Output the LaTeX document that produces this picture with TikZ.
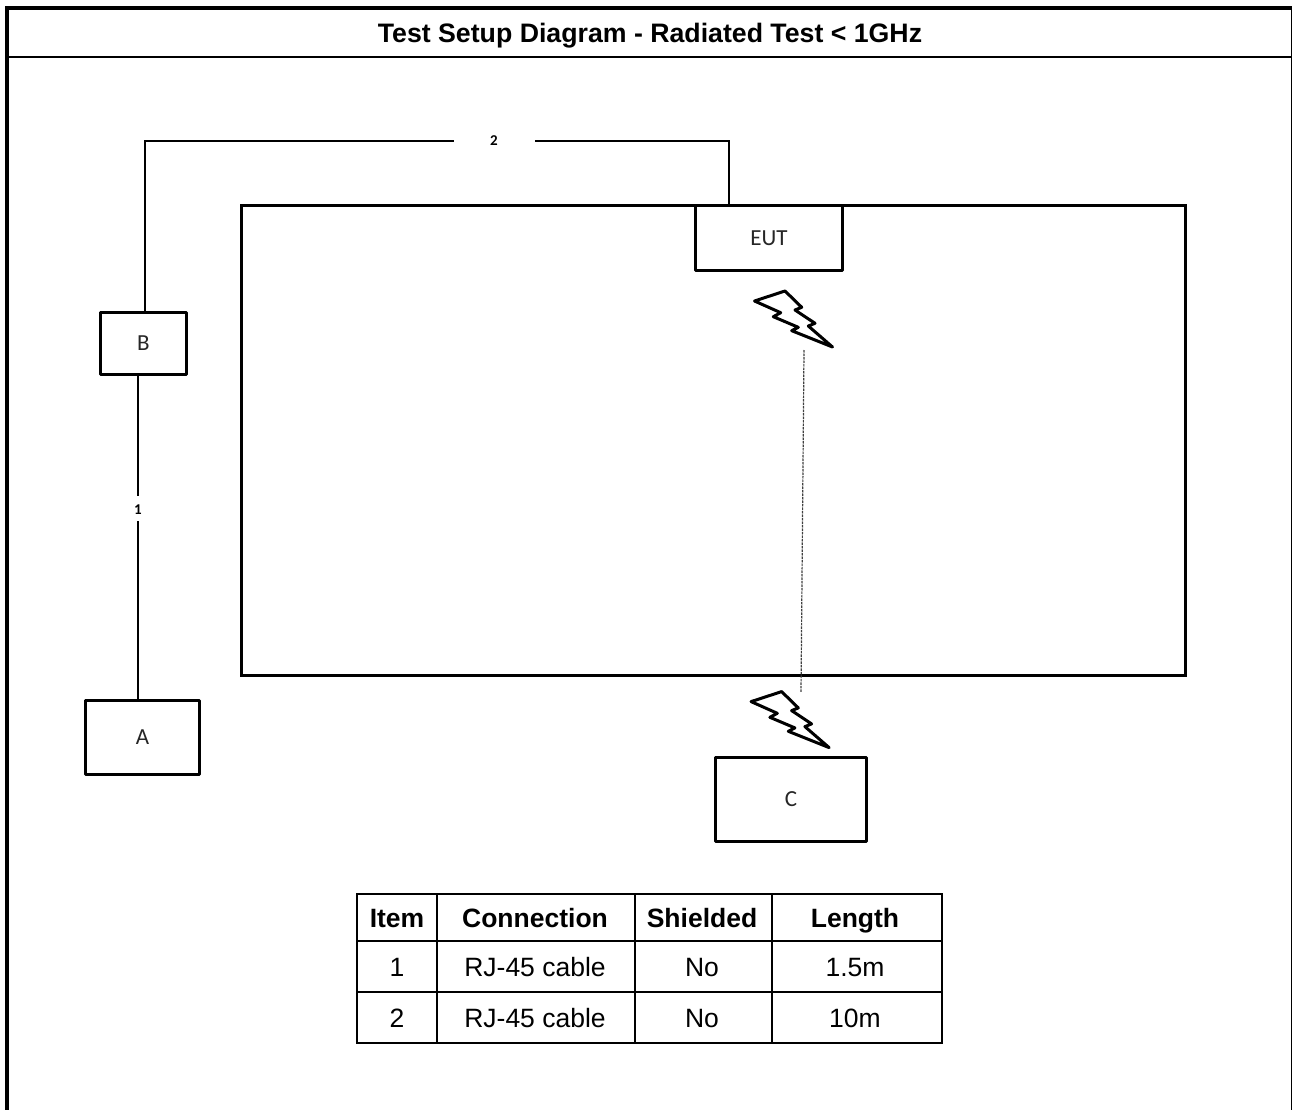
\documentclass[tikz,border=0pt]{standalone}
\usepackage{fontspec}
\setmainfont{Liberation Sans}
\newfontfamily\calfont{Carlito}
\tikzset{
  box/.style={draw=black,line width=3.4pt,fill=white,line join=round,inner sep=0pt,font=\calfont\fontsize{23}{24}\selectfont,text=black!85},
  cable/.style={draw=black,line width=2pt},
  cablelabel/.style={inner sep=0pt,font=\calfont\bfseries\fontsize{15}{16}\selectfont},
  cell/.style={inner sep=0pt,anchor=base,font=\fontsize{26.5}{28}\selectfont},
  head/.style={inner sep=0pt,anchor=base,font=\bfseries\fontsize{26.5}{28}\selectfont},
  tablerule/.style={draw=black,line width=2.8pt},
  pics/bolt/.style={code={\draw[line width=3pt,line join=round,fill=white]
    (754.5,301)--(785,291)--(801.7,307.3)--(795,310)--(815,323.3)--(808.3,326)--(832.5,347)
    --(791.7,330.7)--(798.3,327.3)--(773.3,316.7)--(780.7,312.7)--cycle;}}
}
\begin{document}
\begin{tikzpicture}[x=1pt,y=-1pt]
\useasboundingbox (0,0) rectangle (1292,1110);
% outer frame
\fill[black] (5,6) rectangle (1292,10);
\fill[black] (5,6) rectangle (9,1110);
\fill[black] (9,56) rectangle (1292,58);
\fill[black] (1290.5,6) rectangle (1292,1110);
\node[inner sep=0pt,font=\bfseries\fontsize{26.7}{28}\selectfont] (title) at (650,35.5) {Test Setup Diagram - Radiated Test < 1GHz};
% chamber
\node[draw=black,line width=3.4pt,minimum width=944pt,minimum height=470pt,inner sep=0pt] (chamber) at (713.5,440.5) {};
% boxes
\node[box,minimum width=147pt,minimum height=65pt] (EUT) at (769,238) {EUT};
\node[box,minimum width=86pt,minimum height=62pt] (B) at (143.5,343.5) {B};
\node[box,minimum width=114pt,minimum height=74pt] (A) at (142.5,737.5) {A};
\node[box,minimum width=151pt,minimum height=84pt] (C) at (791,799.5) {C};
% cable 1
\node[cablelabel] (L1) at (138,510) {1};
\draw[cable] (B.south -| L1) -- ([yshift=14pt]L1.center);
\draw[cable] ([yshift=-11pt]L1.center) -- (A.north -| L1);
% cable 2
\node[cablelabel] (L2) at (494,141) {2};
\draw[cable] ([xshift=1.5pt]B.north) |- ([xshift=-40pt]L2.center);
\draw[cable] ([xshift=-40pt]EUT.north) |- ([xshift=41pt]L2.center);
% radiated path
\coordinate (p1) at (804,350);
\coordinate (p2) at (801,692);
\draw[black!75,line width=1.2pt,dash pattern=on 2.5pt off 1pt] (p1) -- (p2);
\pic at (0,0) {bolt};
\pic at (-3.4,400.6) {bolt};
% table
\draw[tablerule] (357,894) rectangle (942,1043);
\draw[tablerule] (357,941)--(942,941);
\draw[tablerule] (357,992)--(942,992);
\draw[tablerule] (437,894)--(437,1043);
\draw[tablerule] (635,894)--(635,1043);
\draw[tablerule] (772,894)--(772,1043);
\node[head] (h1) at (397,927) {Item};
\node[head] (h2) at (535,927) {Connection};
\node[head] (h3) at (702,927) {Shielded};
\node[head] (h4) at (855,927) {Length};
\node[cell] (a1c) at (397,976) {1};
\node[cell] (a2c) at (535,976) {RJ-45 cable};
\node[cell] (a3c) at (702,976) {No};
\node[cell] (a4c) at (855,976) {1.5m};
\node[cell] (b1c) at (397,1027) {2};
\node[cell] (b2c) at (535,1027) {RJ-45 cable};
\node[cell] (b3c) at (702,1027) {No};
\node[cell] (b4c) at (855,1027) {10m};
\end{tikzpicture}
\end{document}
